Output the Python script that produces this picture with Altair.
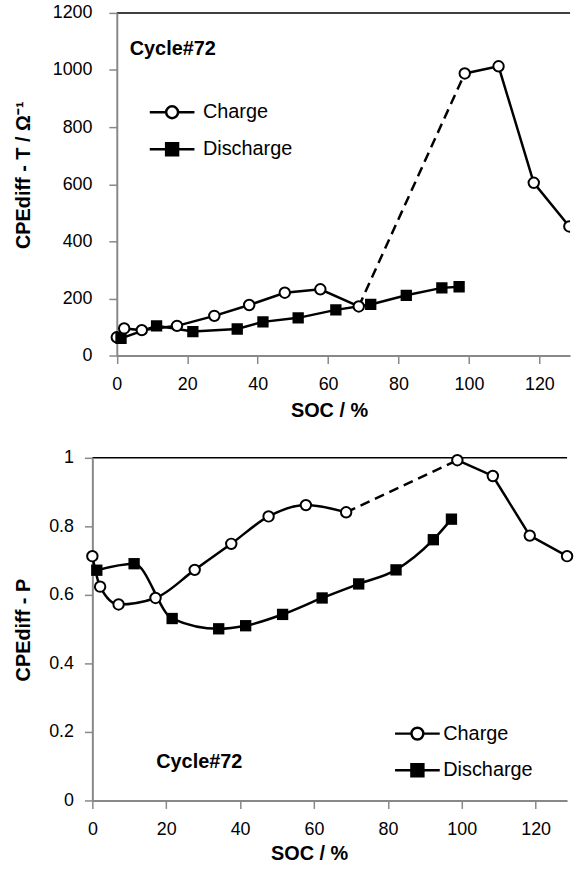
import altair as alt
import pandas as pd

# ---- data ----
charge_soc = [0, 2.1, 7.1, 17.1, 27.7, 37.6, 47.7, 57.8, 68.7, 98.8, 108.4, 118.4, 128.5]
charge_T = [64, 95, 89, 104, 139, 177, 220, 232, 172, 988, 1013, 605, 452]
charge_P = [0.713, 0.624, 0.572, 0.591, 0.673, 0.749, 0.829, 0.862, 0.841, 0.993, 0.947, 0.773, 0.713]
discharge_soc = [1.2, 11.3, 21.6, 34.2, 41.5, 51.5, 62.2, 72.1, 82.2, 92.3, 97.2]
discharge_T = [60, 104, 84, 93, 118, 132, 160, 179, 211, 237, 241]
discharge_P = [0.672, 0.691, 0.531, 0.501, 0.510, 0.543, 0.591, 0.632, 0.673, 0.761, 0.821]
series_names = ["Charge", "Discharge"]
dashed_pair = (8, 9)  # charge points joined by the dashed segment
x_ticks = [0, 20, 40, 60, 80, 100, 120]
t_ticks = [0, 200, 400, 600, 800, 1000, 1200]
p_ticks = [0, 0.2, 0.4, 0.6, 0.8, 1]

FONT = "Liberation Sans"
# legend glyphs: marker with a line through it (square hatched so it looks filled)
CHARGE_PATH = "M-3.75,0H-1M1,0H3.75M1,0A1,1 0 1,1 -1,0A1,1 0 1,1 1,0Z"
DISCHARGE_PATH = ("M-3.75,0H3.75M-1,-1H1V1H-1ZM-1,-0.6H1M-1,-0.2H1M-1,0.2H1M-1,0.6H1")

H = 345


def line_table(vc, vd, smooth):
    rows = []
    a, b = dashed_pair
    for i, (s, v) in enumerate(zip(charge_soc, vc)):
        if i <= a:
            rows.append(dict(soc=s, v=v, seg="Charge 1", kind="solid"))
        if i >= b:
            rows.append(dict(soc=s, v=v, seg="Charge 2", kind="solid"))
        if i in (a, b):
            rows.append(dict(soc=s, v=v, seg="Charge gap", kind="dash"))
    for s, v in zip(discharge_soc, vd):
        rows.append(dict(soc=s, v=v, seg="Discharge", kind="solid"))
    df = pd.DataFrame(rows)
    df["smooth"] = df["seg"].isin(smooth)
    return df


def point_table(vc, vd):
    rows = [dict(soc=s, v=v, series="Charge") for s, v in zip(charge_soc, vc)]
    rows += [dict(soc=s, v=v, series="Discharge") for s, v in zip(discharge_soc, vd)]
    return pd.DataFrame(rows)


def panel(vc, vd, W, clip, ymax, yticks, yfmt, ytitle, xmax, x0px, ylabpad, ytx, yty,
          xtx, xty, smooth, lx, ly, rowpad, laboff, cdx, coff):
    lines = line_table(vc, vd, smooth)
    pts = point_table(vc, vd)
    xs = alt.Scale(domain=[0, xmax], range=[x0px, W], nice=False, zero=False)
    ys = alt.Scale(domain=[0, ymax], nice=False)
    yaxis = alt.Axis(values=yticks, format=yfmt, title=ytitle, titleAngle=270,
                     titleX=ytx, titleY=yty, titleAlign="center", titleBaseline="middle",
                     titleFontSize=20, titleFontWeight="bold", labelFontSize=18,
                     labelPadding=ylabpad, tickSize=8, tickWidth=1.5, domainWidth=2,
                     grid=False, offset=-x0px)
    xbottom = alt.Axis(values=x_ticks, title="SOC / %", titleX=xtx, titleY=xty,
                       titleAlign="center", titleBaseline="middle", titleFontSize=20,
                       titleFontWeight="bold", labelFontSize=18, labelPadding=12.5,
                       labelFlush=False, tickSize=8, tickWidth=1.5, domainWidth=2, grid=False)

    x = alt.X("soc:Q", scale=xs, axis=xbottom)
    y = alt.Y("v:Q", scale=ys, axis=yaxis)
    smooth_line = alt.Chart(lines).transform_filter(
        "datum.kind === 'solid' && datum.smooth"
    ).mark_line(color="black", strokeWidth=2.5, interpolate="monotone").encode(
        x=x, y=y, detail="seg:N")
    straight_line = alt.Chart(lines).transform_filter(
        "datum.kind === 'solid' && !datum.smooth"
    ).mark_line(color="black", strokeWidth=2.5).encode(x=x, y=y, detail="seg:N")
    dashed = alt.Chart(lines).transform_filter("datum.kind === 'dash'").mark_line(
        color="black", strokeWidth=2.5, strokeDash=[10, 6]
    ).encode(x=x, y=y, detail="seg:N")
    circ = alt.Chart(pts).transform_filter("datum.series === 'Charge'").mark_point(
        shape="circle", size=110, filled=False, fill="white", stroke="black",
        strokeWidth=2, opacity=1, clip=clip
    ).encode(x=x, y=y)
    sq = alt.Chart(pts).transform_filter("datum.series === 'Discharge'").mark_point(
        shape="square", size=130, filled=True, color="black", opacity=1, clip=clip
    ).encode(x=x, y=y)
    leg = alt.Legend(orient="none", legendX=lx, legendY=ly, title=None, padding=0,
                     labelFont=FONT, labelFontSize=20, labelColor="black",
                     labelOffset=laboff, rowPadding=rowpad, symbolSize=144,
                     symbolStrokeWidth=2.5, symbolStrokeColor="black")
    legend_layer = alt.Chart(pts).transform_filter("false").mark_point(
        filled=False, color="black", strokeWidth=2.5, opacity=1
    ).encode(
        x=x, y=y,
        shape=alt.Shape("series:N", scale=alt.Scale(domain=series_names,
                        range=[CHARGE_PATH, DISCHARGE_PATH]), legend=leg),
    )
    return alt.layer(smooth_line, straight_line, dashed, circ, sq, legend_layer).properties(
        width=W, height=H,
        view=alt.ViewBackground(stroke="black", strokeWidth=1.5,
                                strokeDash=[W - x0px, 10000], strokeDashOffset=-x0px),
        title=alt.Title("Cycle#72", anchor="start", frame="group", orient="top",
                        offset=coff, dx=cdx, baseline="middle", fontSize=20,
                        fontWeight="bold", font=FONT, color="black"),
    )


top = panel(charge_T, discharge_T, 481, True, 1200, t_ticks, "d",
            "CPEdiff - T / \u03a9\u207b\u00b9",
            128.7, 24.6, 17, -94.3, 163, 238.3, 55, [],
            70.3, 90.0, 15.3, 21, 37.6, -65.3)
bottom = panel(charge_P, discharge_P, 478, False, 1, p_ticks, "~g", "CPEdiff - P",
               128.5, 0, 11, -69.7, 173, 218.3, 53, ["Charge 1", "Discharge"],
               317.3, 267.7, 14.9, 16, 64.3, -335.4)

chart = alt.concat(top, bottom, columns=1, spacing=27).resolve_scale(
    shape="independent"
).resolve_legend(shape="independent").properties(
    padding={"left": 12, "top": 0, "right": 0, "bottom": 0}
).configure_axis(
    labelFont=FONT, titleFont=FONT, labelColor="black", titleColor="black",
    domainColor="black", tickColor="black"
).configure(background="white")

chart.save("out.html", embed_options={"renderer": "svg", "actions": False})
